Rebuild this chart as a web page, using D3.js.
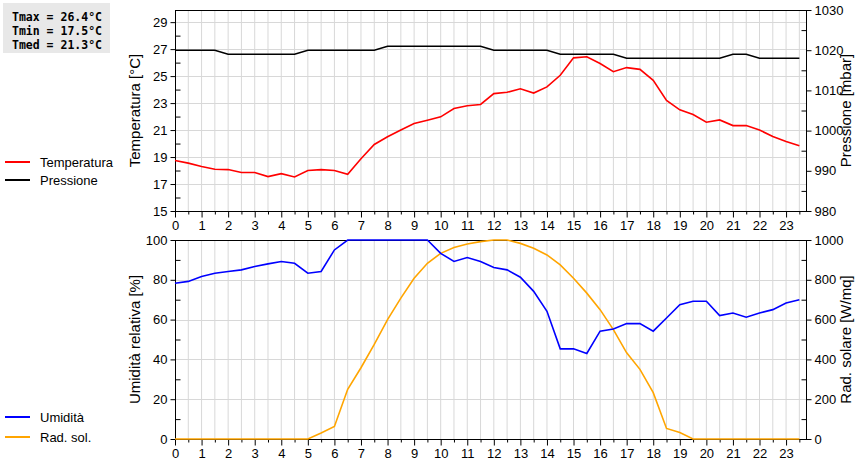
<!DOCTYPE html>
<html><head><meta charset="utf-8">
<script src="https://cdn.jsdelivr.net/npm/d3@7"></script>
<style>body{margin:0;background:#fff}</style>
</head><body><div id="chart"></div>
<script>
// half-hourly readings 0..23.5
var hours = d3.range(48).map(function(i){ return i / 2; });
var temperatura = [18.74,18.55,18.3,18.1,18.07,17.85,17.85,17.55,17.77,17.52,18.0,18.07,18.0,17.72,18.87,19.93,
  20.5,21.0,21.48,21.73,21.98,22.6,22.8,22.9,23.7,23.8,24.06,23.74,24.2,25.06,26.35,26.43,
  25.93,25.33,25.63,25.5,24.69,23.2,22.5,22.15,21.58,21.75,21.33,21.33,21.0,20.53,20.16,19.84];
var pressione = [1020,1020,1020,1020,1019,1019,1019,1019,1019,1019,1020,1020,1020,1020,1020,1020,
  1021,1021,1021,1021,1021,1021,1021,1021,1020,1020,1020,1020,1020,1019,1019,1019,
  1019,1019,1018,1018,1018,1018,1018,1018,1018,1018,1019,1019,1018,1018,1018,1018];
var umidita = [78.3,79.2,81.7,83.3,84.2,85,86.7,88,89.2,88.3,83.3,84.2,95,100,100,100,
  100,100,100,100,93.3,89.2,91.2,89.2,86.2,85,81.3,74.2,64.2,45.3,45.3,43,
  54.2,55.3,58,58,54.2,60.8,67.5,69.2,69.2,62,63.3,61.2,63.3,65,68.3,70];
var radSol = [0,0,0,0,0,0,0,0,0,0,0,30,63,250,358,475,
  600,708,808,883,933,962,980,992,1000,1000,983,958,925,875,808,733,
  650,550,433,350,233,53,33,0,0,0,0,0,0,0,0,0];
var statsLines = ["Tmax = 26.4°C", "Tmin = 17.5°C", "Tmed = 21.3°C"];
var hourTicks = d3.range(24);

var W = 860, H = 460;
var sans = "Liberation Sans, Arial, sans-serif";
var svg = d3.select("#chart").append("svg").attr("width", W).attr("height", H);

var x = d3.scaleLinear().domain([0, 23.75]).range([175, 806]);

function panel(top, bottom, yL, yR, leftTicks, leftMinor, rightTicks, rightMinor, leftLabel, rightLabel) {
  var g = svg.append("g");
  // grid
  g.selectAll(".vg").data(d3.range(1, 48)).enter().append("line")
    .attr("x1", function(d){ return x(d/2); }).attr("x2", function(d){ return x(d/2); })
    .attr("y1", top).attr("y2", bottom).attr("stroke", "#d8d8d8");
  g.selectAll(".hg").data(leftTicks).enter().append("line")
    .attr("x1", x(0)).attr("x2", x(23.75))
    .attr("y1", function(d){ return Math.round(yL(d)) + 0.5; }).attr("y2", function(d){ return Math.round(yL(d)) + 0.5; })
    .attr("stroke", "#d8d8d8");
  g.append("rect").attr("x", x(0) + 0.5).attr("y", top + 0.5).attr("width", x(23.75) - x(0))
    .attr("height", bottom - top).attr("fill", "none").attr("stroke", "#000");

  g.append("g").attr("transform", "translate(0," + (bottom + 0.5) + ")")
    .call(d3.axisBottom(x).tickValues(hourTicks).tickSize(6).tickFormat(d3.format("d")));
  g.append("g").attr("transform", "translate(0," + (bottom + 0.5) + ")")
    .call(d3.axisBottom(x).tickValues(hourTicks.map(function(d){ return d + 0.5; })).tickSize(3).tickFormat(""));
  g.append("g").attr("transform", "translate(" + (x(0) + 0.5) + ",0)")
    .call(d3.axisLeft(yL).tickValues(leftTicks).tickSize(5).tickFormat(d3.format("d")));
  g.append("g").attr("transform", "translate(" + (x(0) + 0.5) + ",0)")
    .call(d3.axisRight(yL).tickValues(leftMinor).tickSize(5).tickFormat(""));
  g.append("g").attr("transform", "translate(" + (x(23.75) + 0.5) + ",0)")
    .call(d3.axisRight(yR).tickValues(rightTicks).tickSize(5).tickFormat(d3.format("d")));
  g.append("g").attr("transform", "translate(" + (x(23.75) + 0.5) + ",0)")
    .call(d3.axisLeft(yR).tickValues(rightMinor).tickSize(5).tickFormat(""));
  g.selectAll(".domain").remove();
  g.selectAll(".tick text").attr("font-size", 13).attr("font-family", sans).attr("fill", "#000");

  var mid = (top + bottom) / 2;
  g.append("text").attr("transform", "translate(140," + mid + ") rotate(-90)").attr("font-family", sans)
    .attr("text-anchor", "middle").attr("font-size", 15).text(leftLabel);
  g.append("text").attr("transform", "translate(851," + mid + ") rotate(-90)").attr("font-family", sans)
    .attr("text-anchor", "middle").attr("font-size", 15).text(rightLabel);
  return g;
}

// top panel
var yT = d3.scaleLinear().domain([15, 29.9]).range([211, 10]);
var yP = d3.scaleLinear().domain([980, 1030]).range([211, 10]);
panel(10, 211, yT, yP, [15,17,19,21,23,25,27,29], [16,18,20,22,24,26,28],
  [980,990,1000,1010,1020,1030], [985,995,1005,1015,1025], "Temperatura [°C]", "Pressione [mbar]");

// bottom panel
var yU = d3.scaleLinear().domain([0, 100]).range([439, 240]);
var yR = d3.scaleLinear().domain([0, 1000]).range([439, 240]);
panel(240, 439, yU, yR, [0,20,40,60,80,100], [10,30,50,70,90],
  [0,200,400,600,800,1000], [100,300,500,700,900], "Umidità relativa [%]", "Rad. solare [W/mq]");

function drawLine(vals, y, color) {
  svg.append("path").datum(vals)
    .attr("fill", "none").attr("stroke", color).attr("stroke-width", 1.6)
    .attr("d", d3.line().x(function(d, i){ return x(hours[i]); }).y(function(d){ return y(d); }));
}
drawLine(pressione, yP, "#000");
drawLine(temperatura, yT, "#f00");
drawLine(radSol, yR, "#ffa500");
drawLine(umidita, yU, "#0000ff");

// legends
var legends = [
  {y: 162, c: "#f00", t: "Temperatura"}, {y: 180, c: "#000", t: "Pressione"},
  {y: 417, c: "#0000ff", t: "Umidità"}, {y: 437, c: "#ffa500", t: "Rad. sol."}
];
legends.forEach(function(l) {
  svg.append("line").attr("x1", 5).attr("x2", 30).attr("y1", l.y).attr("y2", l.y)
    .attr("stroke", l.c).attr("stroke-width", 2);
  svg.append("text").attr("x", 40).attr("y", l.y + 5).attr("font-family", sans).attr("font-size", 13).text(l.t);
});

// stats box
svg.append("rect").attr("x", 3).attr("y", 3).attr("width", 107).attr("height", 50).attr("fill", "#e8e8e8");
statsLines.forEach(function(s, i) {
  svg.append("text").attr("x", 12).attr("y", 21 + i * 14)
    .attr("font-family", "DejaVu Sans Mono, monospace").attr("font-weight", "bold")
    .attr("font-size", 11.5).attr("xml:space", "preserve").text(s);
});
</script></body></html>
